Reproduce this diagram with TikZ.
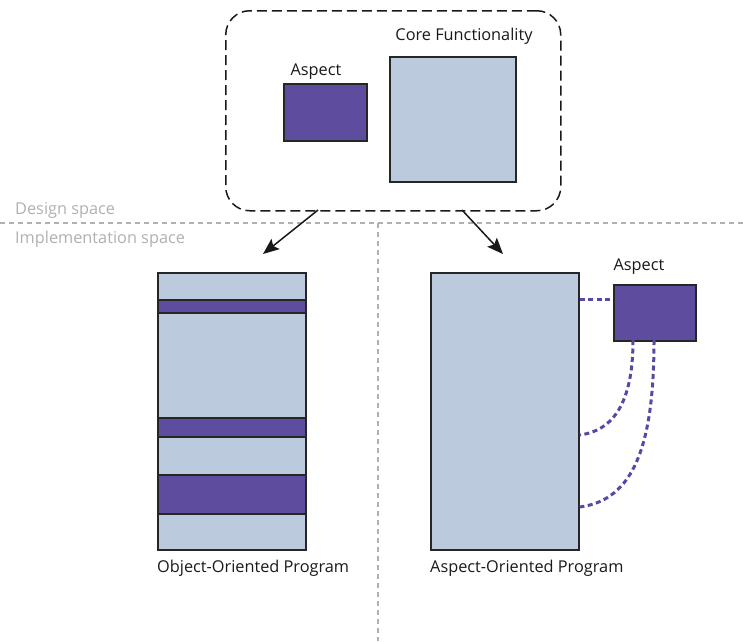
\documentclass[tikz,border=0pt]{standalone}
\usepackage{fontspec}
\setmainfont{Open Sans}
\usetikzlibrary{arrows.meta,calc}
\definecolor{aspectfill}{HTML}{5E4C9E}
\definecolor{corefill}{HTML}{BCCADD}
\definecolor{dotline}{HTML}{5A47A3}
\definecolor{spacegray}{HTML}{B0B0B0}
\tikzset{
  box/.style={draw=black!85, line width=1.7pt, inner sep=0pt, anchor=north west},
  aspectbox/.style={box, fill=aspectfill},
  corebox/.style={box, fill=corefill},
  label/.style={font=\fontsize{16.3}{19}\selectfont, text=black!90, inner sep=0pt},
  spacelabel/.style={font=\fontsize{16.3}{19}\selectfont, text=spacegray, inner sep=0pt, anchor=west},
  divider/.style={spacegray, line width=1.2pt, dash pattern=on 5pt off 4pt},
  flow/.style={-{Stealth[length=16pt,width=13pt,inset=3pt]}, line width=1.5pt, black!90},
  weave/.style={dotline, line width=3pt, dash pattern=on 5pt off 3.5pt}
}
\begin{document}
\begin{tikzpicture}[x=1pt,y=-1pt]
\useasboundingbox (0,0) rectangle (743,641);

% design-space grouping
\node[draw=black!90, line width=1.5pt, dash pattern=on 10pt off 5pt, rounded corners=24pt,
      minimum width=335pt, minimum height=200pt, anchor=north west] (design) at (225,10) {};
\node[aspectbox, minimum width=83pt, minimum height=57pt] (asp) at (283,83) {};
\node[label] (asplbl) at (316,72) {Aspect};
\node[corebox, minimum width=126pt, minimum height=125pt] (core) at (389,56) {};
\node[label] (corelbl) at (464,36) {Core Functionality};

% design / implementation split
\coordinate (hl) at (0,223);
\coordinate (hr) at (743,223);
\coordinate (vt) at (378,223);
\coordinate (vb) at (378,641);
\draw[divider] (hl) -- (hr);
\draw[divider] (vt) -- (vb);
\node[spacelabel] (dsl) at (15,210) {Design space};
\node[spacelabel] (isl) at (15,239) {Implementation space};

% object-oriented program with tangled aspect code
\node[corebox, minimum width=148pt, minimum height=277pt] (oop) at (157,272) {};
\node[aspectbox, minimum width=148pt, minimum height=13pt] (s1) at (157,299) {};
\node[aspectbox, minimum width=148pt, minimum height=19pt] (s2) at (157,417) {};
\node[aspectbox, minimum width=148pt, minimum height=39pt] (s3) at (157,474) {};
\node[label, anchor=west] (ooplbl) at (157,568) {Object-Oriented Program};

% aspect-oriented program with separate aspect
\node[corebox, minimum width=148pt, minimum height=277pt] (aop) at (430,272) {};
\node[aspectbox, minimum width=82pt, minimum height=56pt] (asp2) at (613,284) {};
\node[label] (asp2lbl) at (639,267) {Aspect};
\node[label, anchor=west] (aoplbl) at (430,568) {Aspect-Oriented Program};

% arrows from design to implementations
\coordinate (a1s) at (318,210);
\coordinate (a1e) at (263,254);
\coordinate (a2s) at (462,210);
\coordinate (a2e) at (503,254);
\draw[flow] (a1s) -- (a1e);
\draw[flow] (a2s) -- (a2e);

% weaving links
\coordinate (w0) at (aop.east |- 0,299);
\coordinate (w1s) at (633,340);
\coordinate (w1e) at (aop.east |- 0,435);
\coordinate (w2s) at (654,340);
\coordinate (w2e) at (aop.east |- 0,507);
\draw[weave] (w0) -- (asp2.west |- w0);
\draw[weave] (w1s) .. controls (633,395) and (618,430) .. (w1e);
\draw[weave] (w2s) .. controls (654,445) and (634,500) .. (w2e);
\end{tikzpicture}
\end{document}
